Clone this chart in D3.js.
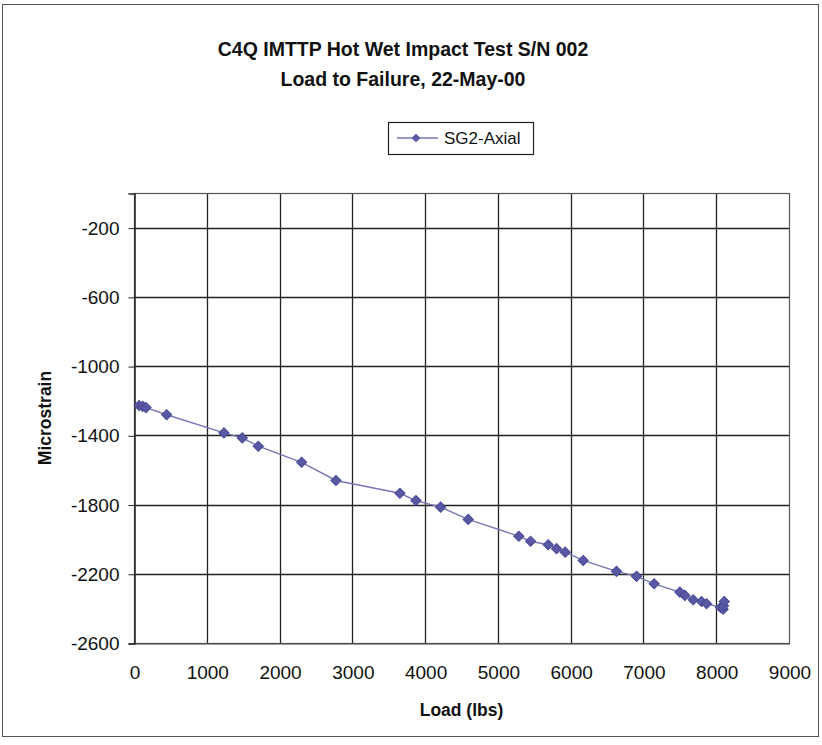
<!DOCTYPE html>
<html>
<head>
<meta charset="utf-8">
<script src="https://cdn.jsdelivr.net/npm/d3@7"></script>
<style>
  html, body { margin: 0; padding: 0; background: #fff; }
  svg { display: block; font-family: Arial, "Liberation Sans", sans-serif; }
</style>
</head>
<body>
<svg id="chart" width="822" height="745"></svg>
<script>
// ---- data ----
const titleLines = ["C4Q IMTTP Hot Wet Impact Test S/N 002", "Load to Failure, 22-May-00"];
const seriesName = "SG2-Axial";
const loadLbs = [70, 120, 165, 449, 1236, 1488, 1708, 2303, 2775, 3654, 3874, 4213, 4592,
  5288, 5449, 5691, 5806, 5925, 6172, 6630, 6905, 7147, 7500, 7569, 7683, 7798, 7867,
  8060, 8095, 8100, 8110];
const microstrain = [-1228, -1233, -1240, -1281, -1386, -1415, -1463, -1556, -1661, -1735, -1777, -1815, -1886,
  -1983, -2012, -2032, -2055, -2075, -2123, -2186, -2215, -2258, -2306, -2325, -2350, -2360, -2373,
  -2395, -2405, -2385, -2360];
const xTicks = [0, 1000, 2000, 3000, 4000, 5000, 6000, 7000, 8000, 9000];
const yTicks = [-2600, -2200, -1800, -1400, -1000, -600, -200];
const xTitle = "Load (lbs)";
const yTitle = "Microstrain";

// ---- layout ----
const svg = d3.select("#chart");
const plot = { left: 134, right: 789, top: 193, bottom: 643 };
const x = d3.scaleLinear().domain([0, 9000]).range([plot.left, plot.right]);
const y = d3.scaleLinear().domain([-2600, 0]).range([plot.bottom, plot.top]);

const lineColor = "#7676b4";
const markerFill = "#5858a4";
const markerStroke = "#4a4a96";

// outer frame
svg.append("rect").attr("x", 2.5).attr("y", 4.5).attr("width", 816).attr("height", 732)
  .attr("fill", "none").attr("stroke", "#555").attr("stroke-width", 1);

// titles
svg.selectAll("text.title").data(titleLines).enter().append("text")
  .attr("class", "title")
  .attr("x", 403).attr("y", (d, i) => 56 + i * 30)
  .attr("text-anchor", "middle")
  .attr("font-size", "19.5px").attr("font-weight", "bold").attr("fill", "#111")
  .text(d => d);

// grid
const g = svg.append("g");
g.append("g").selectAll("line").data(xTicks.filter(d => d > 0 && d < 9000)).enter().append("line")
  .attr("x1", d => Math.round(x(d)) + 0.5).attr("x2", d => Math.round(x(d)) + 0.5)
  .attr("y1", plot.top).attr("y2", plot.bottom)
  .attr("stroke", "#222").attr("stroke-width", 1.3);
g.append("g").selectAll("line").data(yTicks.filter(d => d > -2600)).enter().append("line")
  .attr("x1", plot.left).attr("x2", plot.right)
  .attr("y1", d => Math.round(y(d)) + 0.5).attr("y2", d => Math.round(y(d)) + 0.5)
  .attr("stroke", "#222").attr("stroke-width", 1.3);

// plot border
g.append("rect").attr("x", plot.left + 0.5).attr("y", plot.top + 0.5)
  .attr("width", plot.right - plot.left).attr("height", plot.bottom - plot.top)
  .attr("fill", "none").attr("stroke", "#555").attr("stroke-width", 1.2);

// y axis
const yAxis = d3.axisLeft(y).tickValues(yTicks).tickSize(6).tickPadding(9).tickFormat(d3.format("d"));
const ya = svg.append("g").attr("transform", `translate(${plot.left + 0.5},0.5)`).call(yAxis);
ya.select(".domain").attr("stroke", "#222").attr("stroke-width", 1.5);
ya.selectAll(".tick line").attr("stroke", "#222");
ya.selectAll(".tick text").attr("font-size", "19px").attr("fill", "#111")
  .attr("font-family", "Arial, 'Liberation Sans', sans-serif").text(d => d < 0 ? "-" + Math.abs(d) : d);

// x axis
const xAxis = d3.axisBottom(x).tickValues(xTicks).tickSize(0).tickPadding(22).tickFormat(d3.format("d"));
const xa = svg.append("g").attr("transform", `translate(0.5,${plot.bottom + 0.5})`).call(xAxis);
xa.select(".domain").attr("stroke", "#444").attr("stroke-width", 1.2);
xa.selectAll(".tick text").attr("font-size", "19px").attr("fill", "#111")
  .attr("font-family", "Arial, 'Liberation Sans', sans-serif");

// axis titles
svg.append("text").attr("x", (plot.left + plot.right) / 2).attr("y", 716)
  .attr("text-anchor", "middle").attr("font-size", "17.5px").attr("font-weight", "bold").attr("fill", "#111")
  .text(xTitle);
svg.append("text").attr("transform", `translate(51,${(plot.top + plot.bottom) / 2}) rotate(-90)`)
  .attr("text-anchor", "middle").attr("font-size", "17.5px").attr("font-weight", "bold").attr("fill", "#111")
  .text(yTitle);

// series
const pts = loadLbs.map((v, i) => [v, microstrain[i]]);
svg.append("path").datum(pts)
  .attr("d", d3.line().x(d => x(d[0])).y(d => y(d[1])))
  .attr("fill", "none").attr("stroke", lineColor).attr("stroke-width", 1.4);

const diamond = d3.symbol().type(d3.symbolSquare).size(52);
svg.append("g").selectAll("path").data(pts).enter().append("path")
  .attr("transform", d => `translate(${x(d[0])},${y(d[1])}) rotate(45)`)
  .attr("d", diamond)
  .attr("fill", markerFill).attr("stroke", markerStroke).attr("stroke-width", 1);

// legend
const lg = svg.append("g");
lg.append("rect").attr("x", 388.5).attr("y", 122.5).attr("width", 145).attr("height", 32)
  .attr("fill", "#fff").attr("stroke", "#222").attr("stroke-width", 1.2);
lg.append("line").attr("x1", 397).attr("x2", 438).attr("y1", 138).attr("y2", 138)
  .attr("stroke", lineColor).attr("stroke-width", 1.4);
lg.append("path").attr("transform", "translate(416,138) rotate(45)")
  .attr("d", d3.symbol().type(d3.symbolSquare).size(30))
  .attr("fill", markerFill).attr("stroke", markerStroke).attr("stroke-width", 0.8);
lg.append("text").attr("x", 444).attr("y", 144).attr("font-size", "17px").attr("fill", "#111")
  .text(seriesName);
</script>
</body>
</html>
